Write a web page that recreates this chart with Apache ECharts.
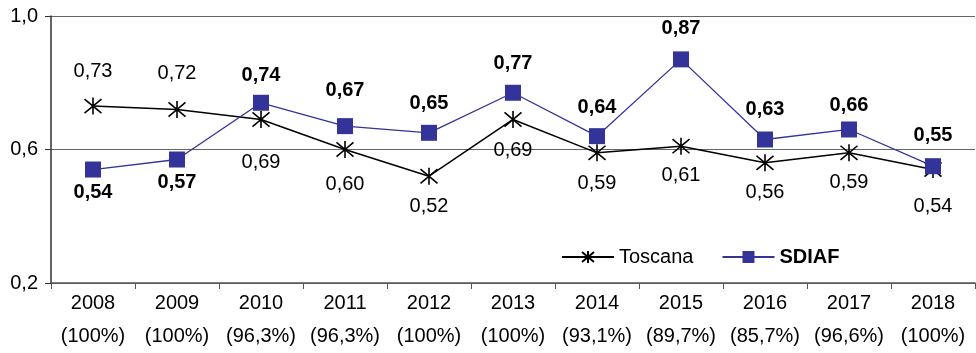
<!DOCTYPE html>
<html><head><meta charset="utf-8">
<script src="https://cdn.jsdelivr.net/npm/echarts@6/dist/echarts.min.js"></script>
<style>html,body{margin:0;padding:0;background:#fff}#c{width:976px;height:353px}</style>
</head><body><div id="c"></div>
<script>
var years = ['2008','2009','2010','2011','2012','2013','2014','2015','2016','2017','2018'];
var coverage = ['(100%)','(100%)','(96,3%)','(96,3%)','(100%)','(100%)','(93,1%)','(89,7%)','(85,7%)','(96,6%)','(100%)'];
var toscana = [0.73,0.72,0.69,0.60,0.52,0.69,0.59,0.61,0.56,0.59,0.54];
var sdiaf = [0.54,0.57,0.74,0.67,0.65,0.77,0.64,0.87,0.63,0.66,0.55];

// label placement styling (not data)
var toscanaLabelPos = ['top','top','bottom','bottom','bottom','bottom','bottom','bottom','bottom','bottom','bottom'];
var toscanaLabelDist = [15,17,24,16,11,12,11,10,10,10,18];
var sdiafLabelPos = ['bottom','bottom','top','top','top','top','top','top','top','top','top'];
var sdiafLabelDist = [5,5,9,18,11,11,11,13,12,6,13];

function fmt(v){return v.toFixed(2).replace('.',',');}
var star = 'path://M0,0L10,10M10,0L0,10M5,-1L5,11';
var font = 'Liberation Sans, Arial, sans-serif';
var fs = 20;

var chart = echarts.init(document.getElementById('c'));
chart.setOption({
  animation:false,
  grid:{left:51,right:1,top:16,bottom:68},
  legend:{
    left:556, top:242, itemGap:28, itemWidth:52, itemHeight:15,
    textStyle:{fontFamily:font,fontSize:fs,color:'#000'},
    data:[{name:'Toscana'},{name:'SDIAF',textStyle:{fontWeight:'bold'}}]
  },
  xAxis:{
    type:'category', data:years, boundaryGap:true,
    axisLine:{lineStyle:{color:'#555',width:1.5}},
    axisTick:{show:true,interval:0,alignWithLabel:false,length:6,lineStyle:{color:'#555'}},
    axisLabel:{interval:0,fontFamily:font,fontSize:fs,color:'#000',lineHeight:33,margin:4,
      formatter:function(v,i){return v+'\n'+coverage[i];}}
  },
  yAxis:{
    type:'value', min:0.2, max:1.0, interval:0.4,
    axisLine:{show:true,lineStyle:{color:'#333',width:1.5}},
    axisTick:{show:true,length:6,lineStyle:{color:'#333'}},
    splitLine:{lineStyle:{color:'#666',width:1.2}},
    axisLabel:{fontFamily:font,fontSize:fs,color:'#000',margin:13,
      formatter:function(v){return v.toFixed(1).replace('.',',');}}
  },
  series:[
    {
      name:'Toscana', type:'line', symbol:star, symbolSize:[17,17],
      lineStyle:{color:'#000',width:1.5},
      itemStyle:{color:'rgba(0,0,0,0)',borderColor:'#000',borderWidth:1.6},
      labelLayout:{hideOverlap:false},
      data:toscana.map(function(v,i){
        return {value:v,label:{position:toscanaLabelPos[i],distance:toscanaLabelDist[i]}};
      }),
      label:{show:true,fontFamily:font,fontSize:fs,color:'#000',formatter:function(p){return fmt(p.value);}}
    },
    {
      name:'SDIAF', type:'line', symbol:'rect', symbolSize:16,
      lineStyle:{color:'#333399',width:1.3},
      itemStyle:{color:'#333399'},
      labelLayout:{hideOverlap:false},
      data:sdiaf.map(function(v,i){
        return {value:v,label:{position:sdiafLabelPos[i],distance:sdiafLabelDist[i]}};
      }),
      label:{show:true,fontFamily:font,fontSize:fs,fontWeight:'bold',color:'#000',formatter:function(p){return fmt(p.value);}}
    }
  ]
});
</script></body></html>
